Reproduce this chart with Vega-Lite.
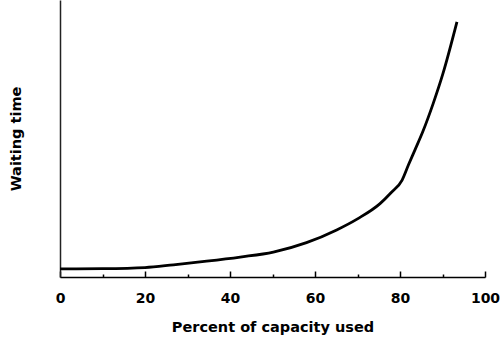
{
  "$schema": "https://vega.github.io/schema/vega-lite/v6.json",
  "width": 425,
  "height": 277,
  "autosize": {"type": "none"},
  "padding": {"left": 60, "top": 0, "right": 16, "bottom": 62},
  "background": "white",
  "config": {
    "view": {"stroke": null},
    "font": "DejaVu Sans",
    "axis": {"labelFont": "DejaVu Sans", "titleFont": "DejaVu Sans"}
  },
  "data": {
    "values": [
      {"capacity": 0, "wait": 2.9},
      {"capacity": 10, "wait": 3.0},
      {"capacity": 20, "wait": 3.4},
      {"capacity": 26.7, "wait": 4.4},
      {"capacity": 34.5, "wait": 5.7},
      {"capacity": 42.4, "wait": 7.2},
      {"capacity": 50.2, "wait": 9.0},
      {"capacity": 58, "wait": 12.4},
      {"capacity": 65.1, "wait": 17.0},
      {"capacity": 70, "wait": 21.0},
      {"capacity": 75.3, "wait": 26.5},
      {"capacity": 78, "wait": 30.6},
      {"capacity": 80.5, "wait": 35.0},
      {"capacity": 82, "wait": 40.5},
      {"capacity": 83.5, "wait": 45.8},
      {"capacity": 85.4, "wait": 52.6},
      {"capacity": 87.8, "wait": 62.6},
      {"capacity": 90.1, "wait": 73.4},
      {"capacity": 93.4, "wait": 92.1}
    ]
  },
  "mark": {"type": "line", "color": "black", "strokeWidth": 2.8, "interpolate": "monotone", "clip": false},
  "encoding": {
    "x": {
      "field": "capacity",
      "type": "quantitative",
      "scale": {"domain": [0, 100], "nice": false},
      "axis": {
        "title": "Percent of capacity used",
        "values": [0, 10, 20, 30, 40, 50, 60, 70, 80, 90, 100],
        "labelExpr": "datum.value % 20 === 0 ? datum.label : ''",
        "grid": false,
        "domainColor": "black",
        "domainWidth": 1.5,
        "tickColor": "black",
        "tickWidth": 1.5,
        "tickSize": {"condition": {"test": "datum.value % 20 === 0", "value": -6}, "value": -3},
        "labelFontSize": 14,
        "labelFontWeight": "bold",
        "labelColor": "black",
        "labelPadding": 20,
        "labelFlush": false,
        "titleFontSize": 14.5,
        "titleFontWeight": "bold",
        "titleColor": "black",
        "titlePadding": 15
      }
    },
    "y": {
      "field": "wait",
      "type": "quantitative",
      "scale": {"domain": [0, 100], "nice": false},
      "axis": {
        "title": "Waiting time",
        "labels": false,
        "ticks": false,
        "grid": false,
        "domainColor": "#222",
        "domainWidth": 1.5,
        "titleFontSize": 14.5,
        "titleFontWeight": "bold",
        "titleColor": "black",
        "titlePadding": 37
      }
    }
  }
}
